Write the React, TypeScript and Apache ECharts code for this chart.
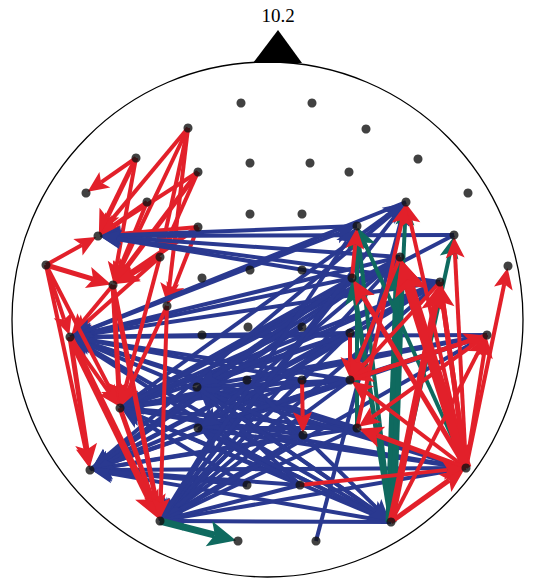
import React, { useEffect, useRef } from "react";
import * as echarts from "echarts";

// Electrode layout (pixel-like plot units)
const electrodeNames = ["A1","A2","B1","B2","C1","C2","C3","C4","C5","C6","D1","D2","D3","D4","E1","E2","F1","F2","F3","F4","G1","G2","G3","G4","G5","G6","H1","H2","H3","H4","I1","J1","J2","J3","J4","J5","J6","K0","K1","K2","K2b","K3","L1","L2","L3","M1","M2","N1","N2","O1","O2","P1","P2"];
const electrodeX = [241,312,188,366,136,250,310,418,198,349,86,147,406,468,250,302,98,198,357,454,46,160,250,302,400,508,113,202,352,440,167,70,202,248,302,350,487,120,197,247,302,350,198,303,357,90,466,247,300,160,391,238,316];
const electrodeY = [103,103,128,129,158,163,163,159,172,172,193,202,202,193,214,214,236,227,226,235,265,257,270,270,257,266,285,278,278,282,306,337,335,327,327,333,335,408,387,380,380,380,428,435,428,470,468,485,485,521,522,541,541];

const titleText = "10.2";

// edges: [from, to, weight]
const redLeftTopEdges: [string, string, number][] = [
  ["C1","D1",1],["B1","F1",1],["B1","H1",1],["C1","F1",2],["C5","F1",1],["C5","H1",2],
  ["D2","F1",1],["C1","H1",1],["G1","F1",1],["G1","H1",2],["G2","H1",2],["F2","H1",2],
  ["F2","I1",1],["B1","I1",1],["G1","J1",1],["H1","J1",1],["G2","J1",1],["F2","F1",1],["D2","H1",1],
  ["B1","G2",1],["C5","G2",1],
];
const blueEdges: [string, string, number][] = [
  ["F4","F1",1],["F3","F1",1],["G5","F1",1],["H3","F1",1],["H4","F1",1],
  ["J6","J1",1],["H4","J1",1],["G5","J1",1],["H3","J1",1],["J5","J1",1],["K3","J1",1],["L3","J1",1],["M2","J1",1],
  ["O2","J1",1],["N2","J1",1],["L2","J1",1],["K2b","J1",1],["D3","J1",1],
  ["J6","K0",1],["K3","K0",1],["L3","K0",1],["M2","K0",1],["O2","K0",1],["L2","K0",1],["N2","K0",1],["J5","K0",1],["H4","K0",1],["K2b","K0",1],
  ["G5","K0",1],["H3","K0",1],["N1","K0",1],["J4","K0",1],["F4","K0",1],
  ["L3","M1",1],["M2","M1",1],["O2","M1",1],["K3","M1",1],["N2","M1",1],["J6","M1",1],["L2","M1",1],
  ["K2b","M1",1],["N1","M1",1],["H4","M1",1],["J5","M1",1],["H3","M1",1],["J4","M1",1],["G5","M1",1],
  ["L3","O1",1],["K3","O1",1],["O2","O1",1],["M2","O1",1],["N2","O1",1],["J5","O1",1],["L2","O1",1],["J6","O1",1],
  ["K2b","O1",1],["G5","O1",1],["H4","O1",1],["K2","O1",1],["H3","O1",1],
  ["K3","K1",1],["L3","L1",1],["M2","L1",1],["O2","L1",1],["L3","K1",1],["M2","K1",1],["O2","K1",1],
  ["K3","L1",1],["J6","L1",1],["N2","L1",1],["J6","K1",1],["L2","K1",1],["N2","K1",1],["J5","K1",1],
  ["H4","K1",1],["H4","L1",1],["G5","L1",1],["J5","L1",1],["H3","K1",1],["G5","K1",1],
  ["J1","F3",1],["K0","D3",1],["M1","D3",1],["O1","D3",1],["P2","D3",1],["L3","F3",1],["K2","O2",1],["L1","O2",1],["O1","F3",1],["K1","O2",1],
];
const redLeftLowEdges: [string, string, number][] = [
  ["G1","M1",1],["J1","M1",2],["J1","O1",3],["H1","O1",2],["I1","K0",1],["H1","K0",2],
  ["G1","K0",1],["K0","O1",2],["I1","O1",1],["J1","K0",1],["G2","K0",1],
];
const greenEdges: [string, string, number][] = [
  ["O2","G5",4],["O2","D3",1],["M2","F3",1],["O2","F4",1],["O1","P1",3],["O2","H3",2],["L3","F3",1],["O2","F3",1],
];
const redRightEdges: [string, string, number][] = [
  ["M2","G6",1],["M2","G5",4],["M2","H4",2],["M2","J6",1],["O2","M2",2],["O2","J6",1],
  ["M2","D3",1],["M2","F4",1],["H3","F3",1],["M2","K3",1],["J6","K3",1],["J5","K3",1],["H4","K3",1],["G5","K3",1],
  ["K2b","L2",1],["M2","L3",2],["O2","H4",3],["L3","D3",1],["N2","M2",1],["H4","M2",2],
  ["K3","J6",1],["J6","L3",1],["M2","H3",2],["M2","G5",3],
];

const colors = ["#e2202a", "#2a3990", "#0f6a5f"];
const weightStyles: Record<number, { lw: number; head: number; half: number }> = {
  1: { lw: 4, head: 21, half: 9.5 },
  2: { lw: 5, head: 24, half: 11 },
  3: { lw: 7, head: 28, half: 13 },
  4: { lw: 11, head: 36, half: 17 },
};

export default function App() {
  const ref = useRef<HTMLDivElement>(null);
  useEffect(() => {
    document.body.style.margin = "0";
    if (!ref.current) return;
    const chart = echarts.init(ref.current, undefined, { renderer: "svg" });
    const idx: Record<string, number> = {};
    electrodeNames.forEach((n, i) => (idx[n] = i));
    const build = (list: [string, string, number][], c: number) =>
      list.map(([a, b, w]) => {
        const i = idx[a], j = idx[b];
        return [electrodeX[i], electrodeY[i], electrodeX[j], electrodeY[j], w, c];
      });
    const edgeData = [
      ...build(redLeftTopEdges, 0),
      ...build(blueEdges, 1),
      ...build(redLeftLowEdges, 0),
      ...build(greenEdges, 2),
      ...build(redRightEdges, 0),
    ];
    chart.setOption({
      animation: false,
      grid: { left: 0, top: 0, right: 0, bottom: 0 },
      xAxis: { type: "value", min: 0, max: 534, show: false },
      yAxis: { type: "value", min: 0, max: 578, inverse: true, show: false },
      graphic: [
        {
          type: "ellipse",
          shape: { cx: 267.5, cy: 319.5, rx: 255.5, ry: 257.5 },
          style: { fill: "none", stroke: "#000", lineWidth: 1.3 },
        },
        {
          type: "polygon",
          shape: { points: [[253, 63], [278, 30], [302, 63]] },
          style: { fill: "#000" },
        },
        {
          type: "text",
          x: 278,
          y: 15,
          style: {
            text: titleText,
            font: '19px "Liberation Serif"',
            fill: "#000",
            align: "center",
            verticalAlign: "middle",
          },
        },
      ],
      series: [
        {
          type: "custom",
          silent: true,
          clip: false,
          z: 2,
          encode: { x: [0, 2], y: [1, 3] },
          data: edgeData,
          renderItem: (params: any, api: any) => {
            const p1 = api.coord([api.value(0), api.value(1)]);
            const p2 = api.coord([api.value(2), api.value(3)]);
            const st = weightStyles[api.value(4)];
            const c = colors[api.value(5)];
            const dx = p2[0] - p1[0], dy = p2[1] - p1[1];
            const len = Math.hypot(dx, dy) || 1;
            const ux = dx / len, uy = dy / len;
            const nx = -uy, ny = ux;
            const tx = p2[0] - ux * 2, ty = p2[1] - uy * 2;
            const bx = tx - ux * st.head, by = ty - uy * st.head;
            const mx = tx - ux * st.head * 0.78, my = ty - uy * st.head * 0.78;
            return {
              type: "group",
              children: [
                {
                  type: "line",
                  shape: { x1: p1[0], y1: p1[1], x2: mx, y2: my },
                  style: { stroke: c, lineWidth: st.lw },
                },
                {
                  type: "polygon",
                  shape: {
                    points: [
                      [tx, ty],
                      [bx + nx * st.half, by + ny * st.half],
                      [mx, my],
                      [bx - nx * st.half, by - ny * st.half],
                    ],
                  },
                  style: { fill: c },
                },
              ],
            };
          },
        },
        {
          type: "scatter",
          z: 3,
          silent: true,
          symbolSize: 9,
          itemStyle: { color: "#111" },
          data: electrodeX.map((x, i) => [x, electrodeY[i]]),
        },
      ],
    });
    return () => chart.dispose();
  }, []);
  return <div ref={ref} style={{ width: 534, height: 578 }} />;
}
